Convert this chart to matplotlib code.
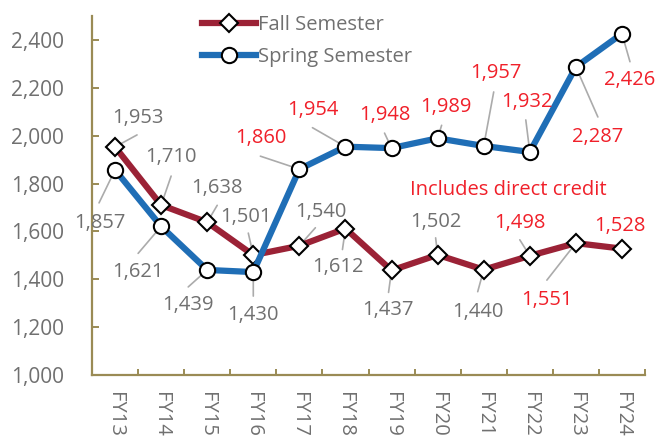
import matplotlib
matplotlib.use("Agg")
import matplotlib.pyplot as plt
from matplotlib.ticker import FuncFormatter, FixedLocator

plt.rcParams['font.family'] = ['Open Sans', 'DejaVu Sans']

years = ["FY13", "FY14", "FY15", "FY16", "FY17", "FY18", "FY19", "FY20", "FY21", "FY22", "FY23", "FY24"]
fall = [1953, 1710, 1638, 1501, 1540, 1612, 1437, 1502, 1440, 1498, 1551, 1528]
spring = [1857, 1621, 1439, 1430, 1860, 1954, 1948, 1989, 1957, 1932, 2287, 2426]

# label placement (pixel offsets from point): text offset, leader end offset, red?
fall_text = [(23, 29), (10, 48), (10, 34), (-7, 38), (21, 34), (-8, -38), (-4, -40), (-2, 33), (-6, -42), (-10, 33), (-29, -57), (-2, 23)]
fall_lead = [(22, 12), (10, 29), (10, 17), (-5, 22), (16, 18), (-3, -21), (-3, -22), (-2, 17), (-6, -22), (-10, 16), (-29, -37), None]
fall_red = [False] * 9 + [True] * 3
spring_text = [(-15, -53), (-23, -46), (-19, -35), (0, -43), (-39, 31), (-33, 37), (-7, 33), (8, 31), (12, 73), (-3, 50), (22, -70), (8, -46)]
spring_lead = [(-16, -33), (-23, -27), (-19, -17), (0, -24), (-39, 13), (-33, 19), (-7, 15), (4, 13), (10, 54), (-4, 32), (22, -50), (8, -28)]
spring_red = [False] * 4 + [True] * 8

GRAY = '#707070'
RED = '#F0202A'
FALL_C = '#9B2236'
SPRING_C = '#1F6EB6'
SPINE = '#9A8B55'
LEAD = '#ABABAB'
FS = 14.5

fig = plt.figure(figsize=(6.59, 4.38), dpi=100)
ax = fig.add_axes([92 / 659, 1 - 375 / 438, (645 - 92) / 659, (375 - 16) / 438])

x = list(range(len(years)))
lf, = ax.plot(x, fall, color=FALL_C, lw=4.5, marker='D', ms=9, mfc='white', mec='black', mew=1.5, zorder=4, label='Fall Semester')
ls, = ax.plot(x, spring, color=SPRING_C, lw=4.5, marker='o', ms=11, mfc='white', mec='black', mew=1.5, zorder=4, label='Spring Semester')

def add_labels(vals, toffs, loffs, reds):
    for i, v in enumerate(vals):
        col = RED if reds[i] else GRAY
        ax.annotate(f"{v:,}", (i, v), xytext=toffs[i], textcoords='offset pixels',
                    ha='center', va='center', fontsize=FS, color=col, zorder=6)
        if loffs[i] is not None:
            ax.annotate("", (i, v), xytext=loffs[i], textcoords='offset pixels',
                        arrowprops=dict(arrowstyle='-', color=LEAD, lw=1.2, shrinkA=0, shrinkB=0),
                        zorder=3)

add_labels(fall, fall_text, fall_lead, fall_red)
add_labels(spring, spring_text, spring_lead, spring_red)

ax.text(508 / 659, 1 - 190 / 438, "Includes direct credit", transform=fig.transFigure,
        ha='center', va='center', fontsize=FS, color=RED)

ax.set_xlim(-0.5, len(years) - 0.5)
ax.set_ylim(1000, 2500)
ax.set_yticks(range(1000, 2401, 200))
ax.yaxis.set_major_formatter(FuncFormatter(lambda v, p: f"{int(v):,}"))
ax.set_xticks(x)
ax.set_xticklabels(years, rotation=270)
ax.xaxis.set_minor_locator(FixedLocator([i - 0.5 for i in range(len(years) + 1)]))

for s in ['top', 'right']:
    ax.spines[s].set_visible(False)
for s in ['left', 'bottom']:
    ax.spines[s].set_color(SPINE)
    ax.spines[s].set_linewidth(1.6)

ax.tick_params(axis='y', direction='in', length=5, width=1.4, color=SPINE, labelsize=FS + 0.5, labelcolor=GRAY, pad=20)
ax.tick_params(axis='x', which='major', length=0, labelsize=FS, labelcolor=GRAY, pad=12)
ax.tick_params(axis='x', which='minor', direction='in', length=4, width=1.4, color=SPINE)

leg = ax.legend(handles=[lf, ls], loc='upper left', bbox_to_anchor=(202 / 659, 1 - 15 / 438),
                bbox_transform=fig.transFigure, frameon=False, fontsize=FS, labelcolor=GRAY,
                handlelength=2.7, handletextpad=0.1, labelspacing=0.6, borderpad=0, borderaxespad=0,
                numpoints=1)

fig.savefig("out.png", dpi=100)
